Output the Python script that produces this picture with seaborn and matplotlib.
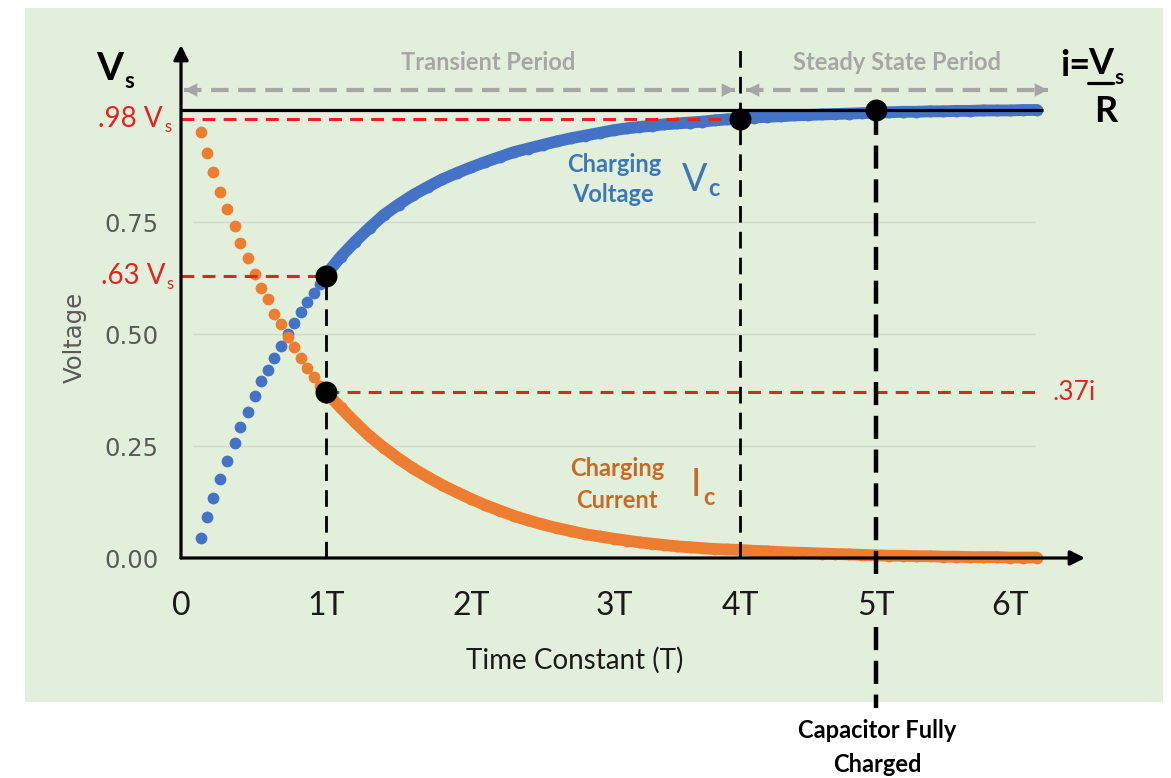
import numpy as np
import pandas as pd
import matplotlib
matplotlib.use("Agg")
import matplotlib.pyplot as plt
import seaborn as sns
from matplotlib.patches import Rectangle
from matplotlib.lines import Line2D

# Values (time in units of T, y in fractions of Vs)
t_sparse = [0.14, 0.18, 0.22, 0.27, 0.32, 0.37, 0.41, 0.46, 0.51, 0.55,
            0.60, 0.64, 0.69, 0.74, 0.78, 0.83, 0.87, 0.92, 0.96]
volt_sparse = [0.045, 0.092, 0.134, 0.177, 0.217, 0.256, 0.292, 0.326, 0.361, 0.394,
               0.420, 0.446, 0.473, 0.499, 0.525, 0.548, 0.571, 0.591, 0.612]
curr_sparse = [0.950, 0.903, 0.862, 0.818, 0.778, 0.740, 0.704, 0.670, 0.635, 0.602,
               0.578, 0.545, 0.522, 0.494, 0.470, 0.446, 0.423, 0.403, 0.385]

t_dense = [1.0, 1.1, 1.2, 1.3, 1.4, 1.5, 1.6, 1.7, 1.8, 1.9,
           2.0, 2.1, 2.2, 2.3, 2.4, 2.5, 2.6, 2.7, 2.8, 2.9,
           3.0, 3.1, 3.2, 3.3, 3.4, 3.5, 3.6, 3.7, 3.8, 3.9,
           4.0, 4.1, 4.2, 4.3, 4.4, 4.5, 4.6, 4.7, 4.8, 4.9,
           5.0, 5.1, 5.2, 5.3, 5.4, 5.5, 5.6, 5.7, 5.8, 5.9,
           6.0, 6.1, 6.2]
volt_dense = [0.632, 0.672, 0.706, 0.737, 0.766, 0.789, 0.810, 0.828, 0.845, 0.859,
              0.872, 0.884, 0.895, 0.906, 0.914, 0.922, 0.930, 0.937, 0.943, 0.949,
              0.955, 0.959, 0.962, 0.965, 0.968, 0.970, 0.972, 0.974, 0.977, 0.979,
              0.981, 0.983, 0.985, 0.986, 0.988, 0.989, 0.990, 0.991, 0.992, 0.993,
              0.994, 0.995, 0.996, 0.996, 0.997, 0.997, 0.998, 0.998, 0.999, 0.999,
              0.999, 1.000, 1.000]
curr_dense = [0.370, 0.336, 0.303, 0.272, 0.246, 0.222, 0.200, 0.181, 0.163, 0.147,
              0.132, 0.118, 0.106, 0.094, 0.084, 0.075, 0.067, 0.060, 0.053, 0.048,
              0.043, 0.039, 0.035, 0.032, 0.029, 0.026, 0.024, 0.022, 0.020, 0.019,
              0.018, 0.016, 0.015, 0.013, 0.012, 0.011, 0.010, 0.009, 0.008, 0.007,
              0.006, 0.005, 0.005, 0.004, 0.004, 0.003, 0.003, 0.002, 0.002, 0.002,
              0.001, 0.001, 0.001]

mark_t = [1, 1, 4, 5]
mark_v = [0.63, 0.37, 0.98, 1.0]

x_ticks = [0, 1, 2, 3, 4, 5, 6]
x_ticklabels = ["0", "1T", "2T", "3T", "4T", "5T", "6T"]
y_ticks = [0.0, 0.25, 0.50, 0.75]
y_ticklabels = ["0.00", "0.25", "0.50", "0.75"]

# colours
PANEL = "#e2efda"
BLUE = "#4472c4"
ORANGE = "#ed7d31"
BLUE_TXT = "#3c78b4"
ORANGE_TXT = "#c66a26"
RED = "#e02424"
GRAY = "#a6a6a6"
TICK_GRAY = "#595959"

W, H = 1171, 778


def fx(x):
    return x / W


def fy(y):
    return 1 - y / H


# the reference has slightly uneven T spacing, follow it with a piecewise scale
T_KNOTS = [-1, 0, 1, 2, 3, 4, 5, 6, 7]
PX_KNOTS = [36, 181, 326, 471, 614, 740, 876, 1010, 1144]


def fwd(t):
    return np.interp(t, T_KNOTS, PX_KNOTS)


def inv(p):
    return np.interp(p, PX_KNOTS, T_KNOTS)


def ypx(p):
    # pixel row in the reference -> voltage fraction
    return (558 - p) / 448


sns.set_theme(style="white")
plt.rcParams["font.family"] = ["Lato", "DejaVu Sans"]

fig = plt.figure(figsize=(W / 100, H / 100), dpi=100)
fig.patch.set_facecolor("white")
fig.patches.append(Rectangle((fx(25), fy(702)), fx(1163) - fx(25), fy(8) - fy(702),
                             transform=fig.transFigure, facecolor=PANEL,
                             edgecolor="none", zorder=-1))

ax = fig.add_axes([fx(181), fy(558), fx(1085) - fx(181), fy(45) - fy(558)])
ax.set_facecolor("none")
ax.set_xscale("function", functions=(fwd, inv))
ax.set_xlim(0, float(inv(1085)))
ax.set_ylim(0, ypx(45))
for s in ax.spines.values():
    s.set_visible(False)

# faint gridlines
ax.hlines([0.25, 0.5, 0.75], float(inv(193)), float(inv(1035)), colors="#d2dacd", lw=1, zorder=1)

# data
sns.scatterplot(x=t_sparse, y=volt_sparse, s=72, color=BLUE, linewidth=0, ax=ax, zorder=2, clip_on=False)
sns.lineplot(x=t_dense, y=volt_dense, color=BLUE, lw=8.5, ax=ax, zorder=2,
             solid_capstyle="round", clip_on=False)
sns.scatterplot(x=t_dense, y=volt_dense, s=72, color=BLUE, linewidth=0, ax=ax, zorder=2, clip_on=False)

sns.scatterplot(x=t_sparse, y=curr_sparse, s=72, color=ORANGE, linewidth=0, ax=ax, zorder=2.5, clip_on=False)
sns.lineplot(x=t_dense, y=curr_dense, color=ORANGE, lw=8.5, ax=ax, zorder=2.5,
             solid_capstyle="round", clip_on=False)
sns.scatterplot(x=t_dense, y=curr_dense, s=72, color=ORANGE, linewidth=0, ax=ax, zorder=2.5, clip_on=False)

# red reference lines
red_ls = (0, (4.2, 2.7))
ax.plot([0, 4], [0.98, 0.98], color=RED, lw=2.2, ls=red_ls, zorder=3)
ax.plot([0, 1], [0.63, 0.63], color=RED, lw=2.2, ls=red_ls, zorder=3)
ax.plot([1, float(inv(1040))], [0.37, 0.37], color=RED, lw=2.2, ls=red_ls, zorder=3)

# Vs level
ax.plot([0, float(inv(1043))], [1.0, 1.0], color="black", lw=2.3, zorder=4, solid_capstyle="butt")

# black dashed verticals
ax.plot([1, 1], [0, 0.63], color="black", lw=2.0, ls=(0, (6, 3.3)), zorder=4)
ax.plot([4, 4], [0, ypx(48)], color="black", lw=2.0, ls=(0, (6, 3.3)), zorder=4, clip_on=False)
ax.plot([5, 5], [ypx(574), 1.0], color="black", lw=3.2, ls=(0, (5.2, 2.4)), zorder=4, clip_on=False)
ax.plot([5, 5], [ypx(627), ypx(708)], color="black", lw=3.2, ls=(0, (5.2, 2.4)), zorder=4, clip_on=False)

# key points
sns.scatterplot(x=mark_t, y=mark_v, s=250, color="black", linewidth=0, ax=ax, zorder=5)

# axis arrows
arr = dict(arrowstyle="-|>", color="black", lw=2.3, mutation_scale=22, shrinkA=0, shrinkB=0)
ax.annotate("", xy=(0, 1), xytext=(0, 0), xycoords="axes fraction", arrowprops=arr, annotation_clip=False)
ax.annotate("", xy=(1, 0), xytext=(0, 0), xycoords="axes fraction", arrowprops=arr, annotation_clip=False)

# gray period arrows
y_arr = ypx(90)


def gray_arrow(x0, x1):
    ax.plot([x0, x1], [y_arr, y_arr], color=GRAY, lw=3, ls=(0, (4.2, 2.3)), zorder=3, clip_on=False)
    for a, b in ((x1 - 0.12, x1), (x0 + 0.12, x0)):
        ax.annotate("", xy=(b, y_arr), xytext=(a, y_arr),
                    arrowprops=dict(arrowstyle="-|>", color=GRAY, lw=0, mutation_scale=24,
                                    shrinkA=0, shrinkB=0), annotation_clip=False)


gray_arrow(float(inv(184)), float(inv(735)))
gray_arrow(float(inv(746)), float(inv(1048)))

# ticks
ax.set_xticks(x_ticks)
ax.set_xticklabels(x_ticklabels, fontsize=23, color="#1a1a1a")
ax.set_yticks(y_ticks)
ax.set_yticklabels(y_ticklabels, fontsize=17.5, color=TICK_GRAY, family="DejaVu Sans")
ax.tick_params(axis="x", length=0, pad=24)
ax.tick_params(axis="y", length=0, pad=16)
ax.minorticks_off()

fig.text(fx(75), fy(337), "Voltage", rotation=90, fontsize=17.5, color=TICK_GRAY,
         family="DejaVu Sans", ha="center", va="center")
fig.text(fx(575), fy(660), "Time Constant (T)", fontsize=20, color="#1a1a1a", ha="center", va="center")

# texts
fig.text(fx(110), fy(68), "V", fontsize=28, weight="bold", color="black", ha="center", va="center")
fig.text(fx(124), fy(82), "s", fontsize=16, weight="bold", color="black", ha="left", va="center")

fig.text(fx(163), fy(119), ".98 V", fontsize=20, color=RED, ha="right", va="center")
fig.text(fx(164), fy(127), "s", fontsize=12, color=RED, ha="left", va="center")
fig.text(fx(165), fy(276), ".63 V", fontsize=20, color=RED, ha="right", va="center")
fig.text(fx(166), fy(284), "s", fontsize=12, color=RED, ha="left", va="center")
fig.text(fx(1052), fy(392), ".37i", fontsize=19, color=RED, ha="left", va="center")

fig.text(fx(1060), fy(66), "i=", fontsize=26, weight="bold", color="black", ha="left", va="center")
fig.text(fx(1088), fy(64), "V", fontsize=26, weight="bold", color="black", ha="left", va="center")
fig.text(fx(1114), fy(78), "s", fontsize=15, weight="bold", color="black", ha="left", va="center")
fig.add_artist(Line2D([fx(1088), fx(1113)], [fy(83), fy(83)], color="black", lw=2.3))
fig.text(fx(1106), fy(111), "R", fontsize=26, weight="bold", color="black", ha="center", va="center")

fig.text(fx(488), fy(63), "Transient Period", fontsize=17, weight="bold", color=GRAY, ha="center", va="center")
fig.text(fx(897), fy(63), "Steady State Period", fontsize=17, weight="bold", color=GRAY, ha="center", va="center")

fig.text(fx(614), fy(165), "Charging", fontsize=17, weight="bold", color=BLUE_TXT, ha="center", va="center")
fig.text(fx(613), fy(194), "Voltage", fontsize=17, weight="bold", color=BLUE_TXT, ha="center", va="center")
fig.text(fx(695), fy(180), "V", fontsize=27, color=BLUE_TXT, ha="center", va="center")
fig.text(fx(708), fy(188), "c", fontsize=17, weight="bold", color=BLUE_TXT, ha="left", va="center")

fig.text(fx(617), fy(469), "Charging", fontsize=17, weight="bold", color=ORANGE_TXT, ha="center", va="center")
fig.text(fx(617), fy(501), "Current", fontsize=17, weight="bold", color=ORANGE_TXT, ha="center", va="center")
fig.text(fx(696), fy(485), "I", fontsize=27, color=ORANGE_TXT, ha="center", va="center")
fig.text(fx(703), fy(497), "c", fontsize=17, weight="bold", color=ORANGE_TXT, ha="left", va="center")

fig.text(fx(877), fy(730), "Capacitor Fully", fontsize=17, weight="bold", color="black", ha="center", va="center")
fig.text(fx(877), fy(765), "Charged", fontsize=17, weight="bold", color="black", ha="center", va="center")

fig.savefig("out.png", dpi=100)
